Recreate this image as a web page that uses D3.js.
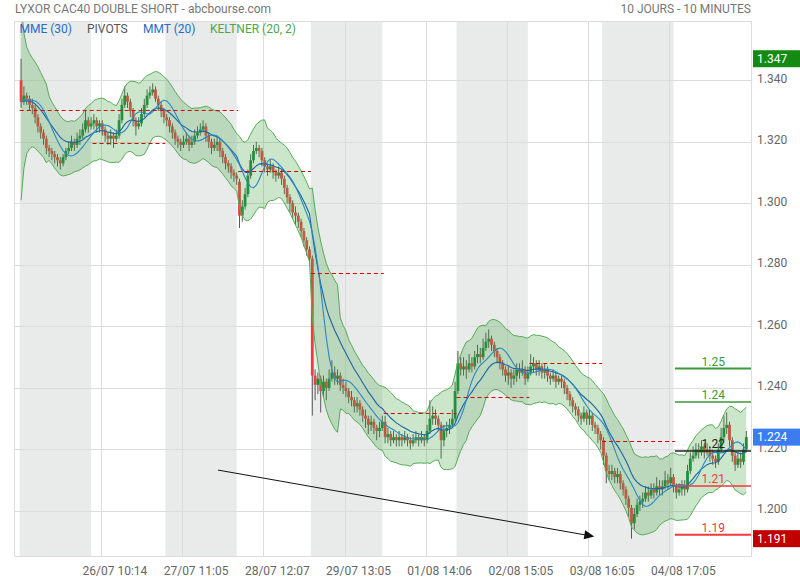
<!DOCTYPE html>
<html><head><meta charset="utf-8">
<script src="https://cdn.jsdelivr.net/npm/d3@7"></script>
<style>body{margin:0;background:#fff;} svg{display:block;font-family:Roboto,"Noto Sans",sans-serif;}</style>
</head><body><svg id="c" width="800" height="580"></svg>
<script>
// 20-minute candles, 26 per session, 10 sessions (25/07 .. 05/08)
const open = [
1.340,1.333,1.335,1.334,1.332,1.331,1.328,1.325,1.323,1.321,1.318,1.317,1.316,1.315,1.314,1.313,1.315,1.317,1.318,1.320,1.319,1.321,1.322,1.324,1.327,1.325,
1.326,1.327,1.325,1.326,1.324,1.322,1.321,1.322,1.321,1.322,1.327,1.332,1.335,1.333,1.330,1.327,1.325,1.326,1.329,1.332,1.335,1.336,1.337,1.334,1.332,1.330,
1.328,1.327,1.325,1.323,1.321,1.320,1.319,1.320,1.321,1.319,1.320,1.322,1.323,1.324,1.325,1.322,1.320,1.318,1.319,1.320,1.317,1.315,1.313,1.312,1.310,1.309,
1.307,1.296,1.299,1.303,1.309,1.314,1.317,1.318,1.317,1.314,1.312,1.311,1.312,1.310,1.309,1.310,1.308,1.305,1.302,1.300,1.297,1.296,1.294,1.291,1.288,1.285,
1.282,1.244,1.241,1.243,1.239,1.242,1.240,1.243,1.245,1.243,1.244,1.241,1.240,1.239,1.237,1.236,1.234,1.235,1.233,1.231,1.230,1.228,1.229,1.227,1.226,1.227,
1.229,1.224,1.225,1.223,1.224,1.223,1.224,1.223,1.224,1.223,1.222,1.223,1.224,1.223,1.224,1.223,1.226,1.230,1.231,1.230,1.228,1.223,1.226,1.227,1.228,1.230,
1.239,1.248,1.246,1.247,1.246,1.248,1.247,1.250,1.251,1.250,1.253,1.255,1.256,1.254,1.252,1.250,1.248,1.246,1.244,1.245,1.243,1.244,1.246,1.245,1.246,1.243,
1.245,1.247,1.248,1.246,1.247,1.245,1.246,1.244,1.243,1.244,1.242,1.243,1.242,1.240,1.238,1.236,1.234,1.233,1.231,1.230,1.232,1.230,1.231,1.228,1.227,1.225,
1.223,1.218,1.213,1.212,1.213,1.211,1.212,1.209,1.207,1.204,1.201,1.196,1.199,1.202,1.203,1.204,1.206,1.205,1.207,1.206,1.208,1.207,1.208,1.210,1.209,1.211,
1.208,1.206,1.207,1.208,1.207,1.213,1.217,1.218,1.220,1.219,1.221,1.219,1.220,1.218,1.217,1.216,1.220,1.224,1.227,1.228,1.223,1.218,1.215,1.217,1.216,1.220
];
const high = [
1.347,1.338,1.336,1.335,1.334,1.332,1.329,1.326,1.324,1.322,1.319,1.318,1.317,1.316,1.315,1.316,1.318,1.320,1.322,1.321,1.323,1.324,1.326,1.330,1.328,1.328,
1.329,1.328,1.327,1.327,1.325,1.323,1.324,1.323,1.324,1.329,1.334,1.338,1.336,1.334,1.331,1.328,1.328,1.331,1.334,1.337,1.338,1.339,1.338,1.335,1.333,1.331,
1.329,1.328,1.326,1.324,1.322,1.321,1.322,1.323,1.322,1.322,1.324,1.325,1.326,1.327,1.326,1.323,1.321,1.321,1.322,1.321,1.318,1.316,1.314,1.313,1.311,1.310,
1.308,1.301,1.305,1.311,1.316,1.319,1.320,1.319,1.318,1.315,1.313,1.314,1.313,1.311,1.312,1.311,1.309,1.306,1.303,1.301,1.299,1.297,1.295,1.292,1.289,1.286,
1.283,1.246,1.245,1.244,1.244,1.243,1.246,1.249,1.247,1.246,1.245,1.243,1.242,1.240,1.239,1.237,1.237,1.236,1.234,1.233,1.231,1.231,1.230,1.228,1.229,1.231,
1.231,1.227,1.226,1.226,1.225,1.226,1.225,1.226,1.225,1.224,1.225,1.226,1.225,1.226,1.225,1.228,1.236,1.234,1.233,1.231,1.229,1.228,1.229,1.230,1.233,1.242,
1.252,1.250,1.250,1.249,1.251,1.250,1.252,1.254,1.253,1.256,1.258,1.259,1.257,1.255,1.253,1.251,1.249,1.247,1.247,1.246,1.246,1.248,1.248,1.249,1.247,1.247,
1.251,1.250,1.249,1.249,1.248,1.248,1.247,1.245,1.246,1.245,1.244,1.244,1.243,1.241,1.239,1.237,1.235,1.234,1.232,1.234,1.233,1.233,1.232,1.229,1.228,1.226,
1.224,1.219,1.215,1.215,1.214,1.214,1.213,1.210,1.208,1.205,1.202,1.201,1.204,1.205,1.206,1.208,1.208,1.209,1.209,1.211,1.210,1.210,1.213,1.212,1.214,1.212,
1.209,1.209,1.210,1.210,1.215,1.219,1.221,1.222,1.222,1.223,1.222,1.222,1.221,1.220,1.218,1.222,1.227,1.231,1.232,1.229,1.224,1.219,1.219,1.219,1.222,1.226
];
const low = [
1.331,1.332,1.332,1.330,1.329,1.326,1.323,1.321,1.319,1.316,1.315,1.314,1.313,1.312,1.311,1.312,1.314,1.316,1.317,1.317,1.318,1.319,1.321,1.323,1.323,1.324,
1.324,1.323,1.323,1.322,1.320,1.319,1.319,1.318,1.320,1.321,1.326,1.331,1.331,1.328,1.325,1.322,1.324,1.325,1.328,1.331,1.334,1.335,1.333,1.330,1.328,1.326,
1.325,1.323,1.321,1.319,1.318,1.317,1.318,1.319,1.317,1.318,1.319,1.321,1.322,1.323,1.320,1.318,1.316,1.317,1.317,1.315,1.313,1.311,1.310,1.308,1.307,1.306,
1.292,1.294,1.298,1.302,1.308,1.313,1.316,1.315,1.312,1.310,1.309,1.310,1.308,1.307,1.308,1.306,1.303,1.300,1.297,1.295,1.293,1.292,1.289,1.286,1.283,1.280,
1.231,1.236,1.238,1.232,1.237,1.236,1.239,1.242,1.241,1.241,1.239,1.238,1.237,1.235,1.234,1.232,1.232,1.231,1.229,1.227,1.225,1.226,1.225,1.223,1.224,1.226,
1.222,1.222,1.221,1.222,1.221,1.221,1.221,1.222,1.221,1.220,1.221,1.222,1.221,1.222,1.221,1.222,1.225,1.228,1.228,1.226,1.217,1.221,1.224,1.225,1.227,1.229,
1.238,1.244,1.244,1.243,1.245,1.245,1.246,1.248,1.248,1.249,1.252,1.253,1.252,1.250,1.248,1.246,1.244,1.242,1.241,1.240,1.241,1.242,1.243,1.244,1.241,1.242,
1.244,1.245,1.244,1.244,1.243,1.243,1.242,1.241,1.242,1.240,1.241,1.240,1.238,1.236,1.234,1.232,1.231,1.229,1.228,1.229,1.228,1.228,1.226,1.225,1.222,1.220,
1.215,1.209,1.210,1.210,1.209,1.209,1.207,1.205,1.202,1.198,1.191,1.194,1.198,1.200,1.201,1.203,1.203,1.204,1.204,1.205,1.205,1.205,1.207,1.207,1.208,1.206,
1.204,1.205,1.205,1.205,1.206,1.212,1.216,1.217,1.217,1.218,1.217,1.218,1.216,1.215,1.214,1.215,1.219,1.223,1.225,1.221,1.216,1.213,1.214,1.214,1.215,1.219
];
const close = [
1.333,1.335,1.334,1.332,1.331,1.328,1.325,1.323,1.321,1.318,1.317,1.316,1.315,1.314,1.313,1.315,1.317,1.318,1.320,1.319,1.321,1.322,1.324,1.327,1.325,1.326,
1.327,1.325,1.326,1.324,1.322,1.321,1.322,1.321,1.322,1.327,1.332,1.335,1.333,1.330,1.327,1.325,1.326,1.329,1.332,1.335,1.336,1.337,1.334,1.332,1.330,1.328,
1.327,1.325,1.323,1.321,1.320,1.319,1.320,1.321,1.319,1.320,1.322,1.323,1.324,1.325,1.322,1.320,1.318,1.319,1.320,1.317,1.315,1.313,1.312,1.310,1.309,1.308,
1.296,1.299,1.303,1.309,1.314,1.317,1.318,1.317,1.314,1.312,1.311,1.312,1.310,1.309,1.310,1.308,1.305,1.302,1.300,1.297,1.296,1.294,1.291,1.288,1.285,1.282,
1.244,1.241,1.243,1.239,1.242,1.240,1.243,1.245,1.243,1.244,1.241,1.240,1.239,1.237,1.236,1.234,1.235,1.233,1.231,1.230,1.228,1.229,1.227,1.226,1.227,1.229,
1.224,1.225,1.223,1.224,1.223,1.224,1.223,1.224,1.223,1.222,1.223,1.224,1.223,1.224,1.223,1.226,1.230,1.231,1.230,1.228,1.223,1.226,1.227,1.228,1.230,1.239,
1.248,1.246,1.247,1.246,1.248,1.247,1.250,1.251,1.250,1.253,1.255,1.256,1.254,1.252,1.250,1.248,1.246,1.244,1.245,1.243,1.244,1.246,1.245,1.246,1.243,1.245,
1.247,1.248,1.246,1.247,1.245,1.246,1.244,1.243,1.244,1.242,1.243,1.242,1.240,1.238,1.236,1.234,1.233,1.231,1.230,1.232,1.230,1.231,1.228,1.227,1.225,1.223,
1.218,1.213,1.212,1.213,1.211,1.212,1.209,1.207,1.204,1.201,1.196,1.199,1.202,1.203,1.204,1.206,1.205,1.207,1.206,1.208,1.207,1.208,1.210,1.209,1.211,1.208,
1.206,1.207,1.208,1.207,1.213,1.217,1.218,1.220,1.219,1.221,1.219,1.220,1.218,1.217,1.216,1.220,1.224,1.227,1.228,1.223,1.218,1.215,1.217,1.216,1.220,1.224
];
const candlesPerDay = 26;
const shadedDays = [0, 2, 4, 6, 8];
const yTicks = [1.200, 1.220, 1.240, 1.260, 1.280, 1.300, 1.320, 1.340];
const xTickIndex = [28.5, 57.5, 86.5, 115.5, 144.5, 173.5, 202.5, 231.5];
const xTickLabels = ["26/07 10:14","27/07 11:05","28/07 12:07","29/07 13:05","01/08 14:06","02/08 15:05","03/08 16:05","04/08 17:05"];
// daily pivot segments (session from .. to)
const pivotFromDay = [0, 1, 3, 4, 5, 6, 7, 8];
const pivotToDay   = [2, 1, 3, 4, 5, 6, 7, 8];
const pivotValue   = [1.3302, 1.3195, 1.3104, 1.2773, 1.2318, 1.2370, 1.2480, 1.2227];
// pivot levels of the last session
const levelValues = [1.2463, 1.2354, 1.2195, 1.2081, 1.1923];
const levelLabels = ["1.25", "1.24", "1.22", "1.21", "1.19"];
const levelKinds  = ["R2", "R1", "P", "S1", "S2"];
const tagValues = [1.347, 1.224, 1.191];
const tagKinds  = ["high", "last", "low"];
const arrowIndex = [70.3, 204.7];
const arrowValue = [1.2133, 1.1917];
const legendLabels = ["MME (30)", "PIVOTS", "MMT (20)", "KELTNER (20, 2)"];
// periods expressed in 20-minute candles (= 30/20 ten-minute periods)
const emaPeriod = 15, tmaPeriod = 10, keltnerPeriod = 10, keltnerMult = 2;

const svg = d3.select("#c");
const L = 14.5, R = 751.5, T = 21.5, B = 556.5;
const n = close.length;
const step = 2.8;
const x = d3.scaleLinear().domain([0, n - 1]).range([21.1, 21.1 + step * (n - 1)]);
const y = d3.scaleLinear().domain([1.1852, 1.3591]).range([B, T]);

// indicators
function ema(arr, p) { const a = 2 / (p + 1); let v = arr[0]; return arr.map((d, i) => (v = i === 0 ? d : a * d + (1 - a) * v)); }
function sma(arr, p) { return arr.map((_, i) => d3.mean(arr.slice(Math.max(0, i - p + 1), i + 1))); }
const tr = close.map((c, i) => i === 0 ? high[0] - low[0] :
  Math.max(high[i] - low[i], Math.abs(high[i] - close[i - 1]), Math.abs(low[i] - close[i - 1])));
const mid = ema(close, keltnerPeriod);
const atr = sma(tr, keltnerPeriod);
const upper = mid.map((m, i) => m + keltnerMult * atr[i]);
const lower = mid.map((m, i) => m - keltnerMult * atr[i]);
const mme = ema(close, emaPeriod);
const mmt = sma(sma(close, Math.floor((tmaPeriod + 1) / 2)), Math.ceil((tmaPeriod + 1) / 2));

svg.append("defs").append("clipPath").attr("id", "clip")
  .append("rect").attr("x", L).attr("y", T).attr("width", R - L).attr("height", B - T);

// session shading
svg.append("g").selectAll("rect").data(shadedDays).join("rect")
  .attr("x", d => x(d * candlesPerDay) - step / 2)
  .attr("width", d => x(d * candlesPerDay + candlesPerDay - 1) - x(d * candlesPerDay) + step / 2)
  .attr("y", T).attr("height", B - T).attr("fill", "#e9eaea");

// grid
const grid = svg.append("g").attr("stroke", "#dcdcdc").attr("stroke-width", 1);
grid.selectAll("line.h").data(yTicks).join("line").attr("class", "h")
  .attr("x1", L).attr("x2", R).attr("y1", d => Math.round(y(d)) + 0.5).attr("y2", d => Math.round(y(d)) + 0.5);
grid.selectAll("line.v").data(xTickIndex).join("line").attr("class", "v")
  .attr("x1", d => Math.round(x(d)) + 0.5).attr("x2", d => Math.round(x(d)) + 0.5).attr("y1", T).attr("y2", B);

const plot = svg.append("g").attr("clip-path", "url(#clip)");
const idx = d3.range(n);
// candles
plot.append("g").selectAll("line").data(idx).join("line")
  .attr("x1", i => x(i)).attr("x2", i => x(i))
  .attr("y1", i => y(high[i])).attr("y2", i => y(low[i]))
  .attr("stroke", "#585858").attr("stroke-width", 1);
plot.append("g").selectAll("rect").data(idx).join("rect")
  .attr("x", i => x(i) - 1.4).attr("width", 2.8)
  .attr("y", i => y(Math.max(open[i], close[i])))
  .attr("height", i => Math.max(1.2, Math.abs(y(open[i]) - y(close[i]))))
  .attr("fill", i => close[i] >= open[i] ? "#178a3a" : "#f03c3c");

// keltner band
plot.append("path").datum(idx)
  .attr("d", d3.area().x(i => x(i)).y0(i => y(lower[i])).y1(i => y(upper[i])))
  .attr("fill", "rgba(70,165,70,0.28)");
const lineOf = arr => d3.line().x(i => x(i)).y(i => y(arr[i]));
[upper, lower].forEach(a => plot.append("path").datum(idx).attr("d", lineOf(a))
  .attr("fill", "none").attr("stroke", "#55ab55").attr("stroke-width", 1));
plot.append("path").datum(idx).attr("d", lineOf(mme)).attr("fill", "none").attr("stroke", "#1b63a8").attr("stroke-width", 1.1);
plot.append("path").datum(idx).attr("d", lineOf(mmt)).attr("fill", "none").attr("stroke", "#2b86c6").attr("stroke-width", 1.1);

// daily pivots
plot.append("g").selectAll("line").data(pivotValue).join("line")
  .attr("x1", (d, k) => x(pivotFromDay[k] * candlesPerDay) - step / 2)
  .attr("x2", (d, k) => x(pivotToDay[k] * candlesPerDay + candlesPerDay - 1) + step / 2)
  .attr("y1", d => Math.round(y(d)) + 0.5).attr("y2", d => Math.round(y(d)) + 0.5)
  .attr("stroke", "#d40000").attr("stroke-width", 1).attr("stroke-dasharray", "4,3");

// last-session pivot levels
const levelColor = k => k[0] === "R" ? "#3a9a3a" : k === "P" ? "#222" : "#f23a3a";
const lvX1 = x(9 * candlesPerDay) - step / 2;
const lv = svg.append("g");
lv.selectAll("line").data(levelValues).join("line")
  .attr("x1", lvX1).attr("x2", R)
  .attr("y1", d => y(d)).attr("y2", d => y(d))
  .attr("stroke", (d, k) => levelColor(levelKinds[k]))
  .attr("stroke-width", (d, k) => levelKinds[k].endsWith("2") ? 2 : 1.4);
lv.selectAll("text").data(levelValues).join("text")
  .attr("x", (lvX1 + R) / 2).attr("y", d => y(d) - 3)
  .attr("text-anchor", "middle").attr("font-size", 12)
  .attr("fill", (d, k) => levelColor(levelKinds[k])).text((d, k) => levelLabels[k]);

// trend arrow
const ax1 = x(arrowIndex[0]), ay1 = y(arrowValue[0]), ax2 = x(arrowIndex[1]), ay2 = y(arrowValue[1]);
const ang = Math.atan2(ay2 - ay1, ax2 - ax1);
svg.append("line").attr("x1", ax1).attr("y1", ay1)
  .attr("x2", ax2 - 8 * Math.cos(ang)).attr("y2", ay2 - 8 * Math.sin(ang))
  .attr("stroke", "#111").attr("stroke-width", 1);
const hp = [[0, 0], [-10, -4.5], [-10, 4.5]].map(([u, v]) =>
  [ax2 + u * Math.cos(ang) - v * Math.sin(ang), ay2 + u * Math.sin(ang) + v * Math.cos(ang)]);
svg.append("path").attr("d", "M" + hp.join("L") + "Z").attr("fill", "#111");

// frame
svg.append("rect").attr("x", L).attr("y", T).attr("width", R - L).attr("height", B - T)
  .attr("fill", "none").attr("stroke", "#dcdcdc");

// y labels
svg.append("g").selectAll("text").data(yTicks).join("text")
  .attr("x", 757).attr("y", d => y(d) + 2.5).attr("font-size", 12).attr("fill", "#666")
  .text(d => d3.format(".3f")(d));
// x labels
svg.append("g").selectAll("text").data(xTickIndex).join("text")
  .attr("x", d => x(d) + 14).attr("y", 574.5).attr("text-anchor", "middle")
  .attr("font-size", 12).attr("fill", "#666").text((d, k) => xTickLabels[k]);

// price tags
const tagColor = { high: "#138a13", last: "#3b7df0", low: "#c00000" };
const tags = svg.append("g").selectAll("g").data(tagValues).join("g");
tags.append("rect").attr("x", 753).attr("width", 47).attr("y", d => y(d) - 8.5).attr("height", 17)
  .attr("fill", (d, k) => tagColor[tagKinds[k]]);
tags.append("text").attr("x", 757).attr("y", d => y(d) + 4.3).attr("font-size", 12).attr("fill", "#fff")
  .text(d => d3.format(".3f")(d));

// titles
svg.append("text").attr("x", 15).attr("y", 13).attr("font-size", 12).attr("fill", "#777")
  .text("LYXOR CAC40 DOUBLE SHORT - abcbourse.com");
svg.append("text").attr("x", 751).attr("y", 13).attr("text-anchor", "end").attr("font-size", 12).attr("fill", "#777")
  .text("10 JOURS - 10 MINUTES");
const legendColor = ["#1f6fc8", "#555", "#1f6fc8", "#4aa84a"];
const legendX = [19.5, 87, 143, 210];
svg.append("g").selectAll("text").data(legendLabels).join("text")
  .attr("x", (d, k) => legendX[k]).attr("y", 33).attr("font-size", 12)
  .attr("fill", (d, k) => legendColor[k]).text(d => d);
</script></body></html>
